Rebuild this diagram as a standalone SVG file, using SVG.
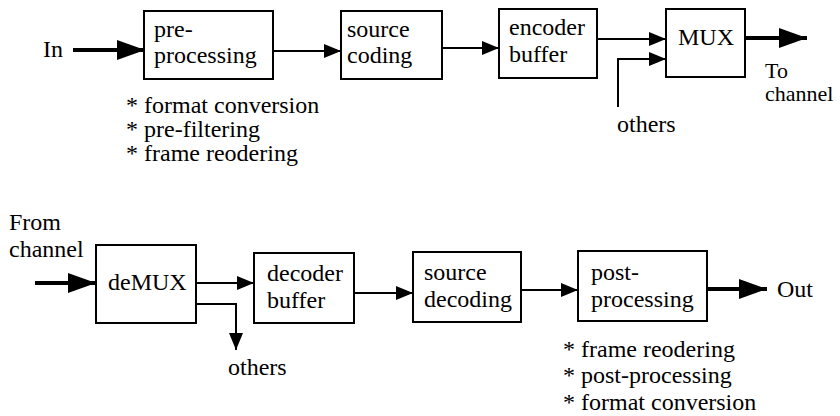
<svg xmlns="http://www.w3.org/2000/svg" width="840" height="416" viewBox="0 0 840 416">
<style>
.box{fill:#fff;stroke:#000;stroke-width:2}
text{font-family:'Liberation Serif','DejaVu Serif',serif;font-size:24px;fill:#000}
.sm{font-size:22px}
.c{fill:none;stroke:#000;stroke-width:2}
.ck{fill:none;stroke:#000;stroke-width:4}
</style>
<defs>
<marker id="a" markerUnits="userSpaceOnUse" markerWidth="18" markerHeight="14" refX="17" refY="7" orient="auto"><path d="M0,0 L17,7 L0,14 Z" fill="#000"/></marker>
<marker id="b" markerUnits="userSpaceOnUse" markerWidth="30" markerHeight="22" refX="28" refY="11" orient="auto"><path d="M0,1 L28,11 L0,21 Z" fill="#000"/></marker>
</defs>
<g id="connectors">
<path class="ck" d="M73,50 H145" marker-end="url(#b)"/>
<path class="c" d="M273,51 H341" marker-end="url(#a)"/>
<path class="c" d="M442,48 H499" marker-end="url(#a)"/>
<path class="c" d="M597,39 H666" marker-end="url(#a)"/>
<path class="c" d="M618,107 V59 H666" marker-end="url(#a)"/>
<path class="ck" d="M745,38 H807" marker-end="url(#b)"/>
<path class="ck" d="M35,283 H96" marker-end="url(#b)"/>
<path class="c" d="M196,283 H254" marker-end="url(#a)"/>
<path class="c" d="M196,304 H236 V350" marker-end="url(#a)"/>
<path class="c" d="M354,293 H413" marker-end="url(#a)"/>
<path class="c" d="M521,290 H578" marker-end="url(#a)"/>
<path class="ck" d="M707,289 H767" marker-end="url(#b)"/>
</g>
<g id="in"><text x="43" y="57">In</text></g>
<g id="preprocessing"><rect class="box" x="144" y="11" width="129" height="68"/><text x="154" y="37">pre-</text><text x="154" y="63">processing</text></g>
<g id="pre-notes"><text x="126" y="113">* format conversion</text><text x="126" y="137">* pre-filtering</text><text x="126" y="161">* frame reodering</text></g>
<g id="sourcecoding"><rect class="box" x="341" y="11" width="101" height="68"/><text x="347" y="37">source</text><text x="347" y="63">coding</text></g>
<g id="encoderbuffer"><rect class="box" x="499" y="9" width="98" height="69"/><text x="509" y="35">encoder</text><text x="509" y="62">buffer</text></g>
<g id="mux"><rect class="box" x="666" y="9" width="79" height="68"/><text x="678" y="45">MUX</text></g>
<g id="others1"><text x="617" y="132">others</text></g>
<g id="tochannel"><text class="sm" x="765" y="78">To</text><text class="sm" x="765" y="101">channel</text></g>
<g id="fromchannel"><text x="9" y="230">From</text><text x="9" y="257">channel</text></g>
<g id="demux"><rect class="box" x="96" y="245" width="100" height="78"/><text x="108" y="290">deMUX</text></g>
<g id="others2"><text x="228" y="375">others</text></g>
<g id="decoderbuffer"><rect class="box" x="254" y="253" width="100" height="70"/><text x="267" y="281">decoder</text><text x="267" y="308">buffer</text></g>
<g id="sourcedecoding"><rect class="box" x="413" y="252" width="108" height="70"/><text x="424" y="280">source</text><text x="424" y="307">decoding</text></g>
<g id="postprocessing"><rect class="box" x="578" y="251" width="129" height="70"/><text x="591" y="280">post-</text><text x="591" y="307">processing</text></g>
<g id="out"><text x="777" y="297">Out</text></g>
<g id="post-notes"><text x="563" y="357">* frame reodering</text><text x="563" y="383">* post-processing</text><text x="563" y="410">* format conversion</text></g>
</svg>
